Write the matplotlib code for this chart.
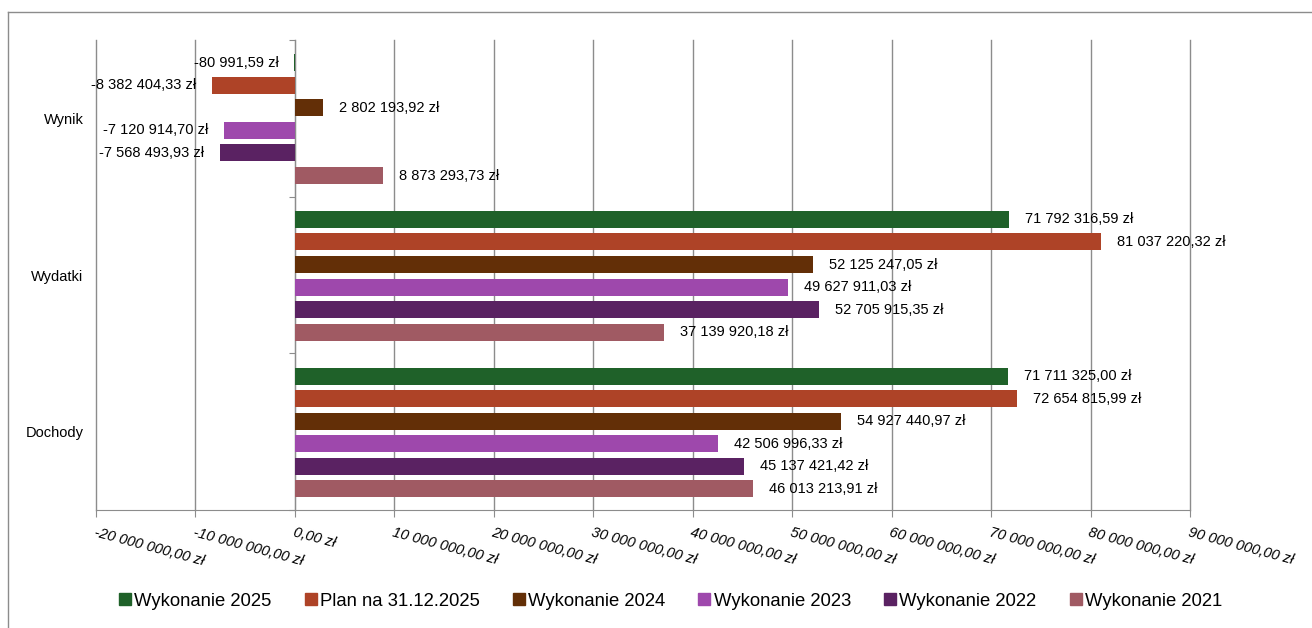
import matplotlib
matplotlib.use("Agg")
import matplotlib.pyplot as plt
from matplotlib.lines import Line2D
import numpy as np

plt.rcParams['font.family'] = ['Liberation Sans', 'DejaVu Sans']

# data
categories = ["Dochody", "Wydatki", "Wynik"]
series_names = ["Wykonanie 2025", "Plan na 31.12.2025", "Wykonanie 2024",
                "Wykonanie 2023", "Wykonanie 2022", "Wykonanie 2021"]
# values per series, ordered as categories (Dochody, Wydatki, Wynik)
wyk_2025 = [71711325.00, 71792316.59, -80991.59]
plan_2025 = [72654815.99, 81037220.32, -8382404.33]
wyk_2024 = [54927440.97, 52125247.05, 2802193.92]
wyk_2023 = [42506996.33, 49627911.03, -7120914.70]
wyk_2022 = [45137421.42, 52705915.35, -7568493.93]
wyk_2021 = [46013213.91, 37139920.18, 8873293.73]
x_ticks = [-20e6, -10e6, 0, 10e6, 20e6, 30e6, 40e6, 50e6, 60e6, 70e6, 80e6, 90e6]

series = [wyk_2025, plan_2025, wyk_2024, wyk_2023, wyk_2022, wyk_2021]
colors = ["#1f6129", "#ae4327", "#632f07", "#9e48ac", "#5a2262", "#a05a63"]


def fmt(v):
    s = f"{v:,.2f}".replace(",", " ").replace(".", ",")
    return s + " zł"


def main():
    W, H = 1312, 628
    fig = plt.figure(figsize=(W / 100, H / 100), dpi=100)
    ax = fig.add_axes([96 / W, 1 - 510 / H, (1190 - 96) / W, (510 - 40) / H])

    pitch = 0.144
    height = 0.108
    y = np.arange(len(categories))
    for i, (vals, c) in enumerate(zip(series, colors)):
        pos = y + (2.5 - i) * pitch - 0.005
        bars = ax.barh(pos, vals, height=height, color=c, zorder=3)
        for b, v in zip(bars, vals):
            yc = b.get_y() + b.get_height() / 2
            if v >= 0:
                ax.annotate(fmt(v), (v, yc), xytext=(11.5, 0), textcoords="offset points",
                            ha="left", va="center", fontsize=10.5, color="black")
            else:
                ax.annotate(fmt(v), (v, yc), xytext=(-11, 0), textcoords="offset points",
                            ha="right", va="center", fontsize=10.5, color="black")

    ax.set_xlim(x_ticks[0], x_ticks[-1])
    ax.set_ylim(-0.5, 2.5)
    ax.set_xticks(x_ticks)
    ax.set_xticklabels([fmt(t) for t in x_ticks], rotation=-15, ha="left", va="top",
                       rotation_mode="anchor", fontstyle="italic", fontsize=10.5)
    ax.tick_params(axis="x", length=5, color="#8c8c8c", pad=6)
    ax.grid(axis="x", color="#8c8c8c", lw=1, zorder=0)
    for gl in ax.get_xgridlines():
        gl.set_clip_on(False)

    ax.set_yticks(y)
    ax.set_yticklabels(categories, fontsize=10.5)
    ax.tick_params(axis="y", length=0, pad=9)

    for s in ["top", "right", "left"]:
        ax.spines[s].set_visible(False)
    ax.spines["bottom"].set_color("#8c8c8c")

    # category axis at zero
    sec = ax.secondary_yaxis(20 / 110)
    sec.set_yticks([-0.5, 0.5, 1.5, 2.5])
    sec.set_yticklabels([])
    sec.spines["left"].set_color("#8c8c8c")
    sec.tick_params(axis="y", length=4, color="#8c8c8c", direction="out")

    handles = [Line2D([0], [0], marker="s", ls="none", color=c, markersize=8) for c in colors]
    fig.legend(handles, series_names, loc="center", ncol=6,
               bbox_to_anchor=(670 / W, 1 - 601 / H), frameon=False,
               fontsize=13.3, handletextpad=0.12, columnspacing=1.75, handlelength=0.75)

    # outer frame
    fig.add_artist(Line2D([8 / W, 8 / W], [0, 1 - 12 / H], color="#8c8c8c", lw=1))
    fig.add_artist(Line2D([8 / W, 1], [1 - 12 / H, 1 - 12 / H], color="#8c8c8c", lw=1))

    fig.savefig("out.png", dpi=100)


if __name__ == '__main__':
    main()
